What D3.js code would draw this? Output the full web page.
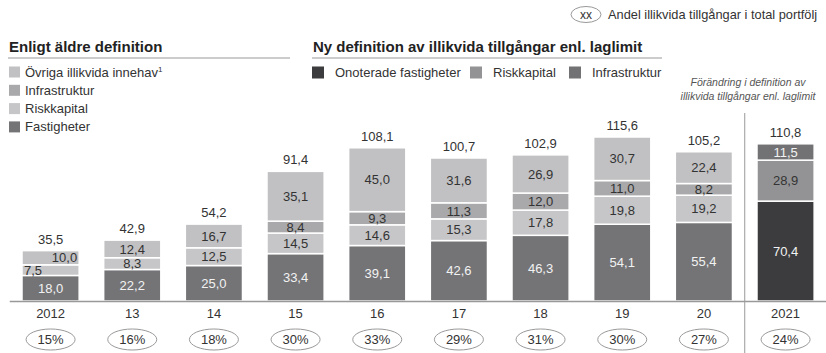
<!DOCTYPE html>
<html>
<head>
<meta charset="utf-8">
<script src="https://cdn.jsdelivr.net/npm/d3@7"></script>
<style>
  html, body { margin: 0; padding: 0; background: #fff; }
  svg { display: block; font-family: "Liberation Sans", Arial, sans-serif; }
</style>
</head>
<body>
<svg id="chart" width="826" height="353"></svg>
<script>
// Illiquid holdings, SEK bn, per year
const years = ["2012", "13", "14", "15", "16", "17", "18", "19", "20", "2021"];

// Older definition (2012–2020), bottom to top
const oldFastigheter   = [18.0, 22.2, 25.0, 33.4, 39.1, 42.6, 46.3, 54.1, 55.4];
const oldRiskkapital   = [7.5, 8.3, 12.5, 14.5, 14.6, 15.3, 17.8, 19.8, 19.2];
const oldInfrastruktur = [0, 0, 0, 8.4, 9.3, 11.3, 12.0, 11.0, 8.2];
const oldOvriga        = [10.0, 12.4, 16.7, 35.1, 45.0, 31.6, 26.9, 30.7, 22.4];

// New definition (2021), bottom to top
const newOnoterade     = [70.4];
const newRiskkapital   = [28.9];
const newInfrastruktur = [11.5];

const totals = [35.5, 42.9, 54.2, 91.4, 108.1, 100.7, 102.9, 115.6, 105.2, 110.8];
const shares = ["15%", "16%", "18%", "30%", "33%", "29%", "31%", "30%", "27%", "24%"];

const oldLegend = ["Övriga illikvida innehav", "Infrastruktur", "Riskkapital", "Fastigheter"];
const newLegend = ["Onoterade fastigheter", "Riskkapital", "Infrastruktur"];

const colors = {
  oldFastigheter: "#747477",
  oldRiskkapital: "#c6c6c8",
  oldInfrastruktur: "#a9a9ab",
  oldOvriga: "#c1c1c3",
  newOnoterade: "#3c3c3e",
  newRiskkapital: "#939395",
  newInfrastruktur: "#727274"
};

const svg = d3.select("#chart");
const textDark = "#333";

// Build stacked segments per year
const segments = [];
years.forEach((yr, i) => {
  let parts;
  if (i < oldFastigheter.length) {
    parts = [
      { key: "oldFastigheter", v: oldFastigheter[i], light: false },
      { key: "oldRiskkapital", v: oldRiskkapital[i], light: true },
      { key: "oldInfrastruktur", v: oldInfrastruktur[i], light: true },
      { key: "oldOvriga", v: oldOvriga[i], light: true }
    ];
  } else {
    const j = i - oldFastigheter.length;
    parts = [
      { key: "newOnoterade", v: newOnoterade[j], light: false },
      { key: "newRiskkapital", v: newRiskkapital[j], light: true },
      { key: "newInfrastruktur", v: newInfrastruktur[j], light: false }
    ];
  }
  let acc = 0;
  parts.forEach(p => {
    if (p.v > 0) {
      segments.push({ year: yr, key: p.key, v: p.v, y0: acc, y1: acc + p.v, light: p.light });
    }
    acc += p.v;
  });
});

const x = d3.scaleBand().domain(years).range([9.75, 826.4]).paddingInner(0.3).paddingOuter(0.15);
const y = d3.scaleLinear().domain([0, 115.6]).range([301, 137]);

// Bars
svg.append("g").selectAll("rect").data(segments).join("rect")
  .attr("x", d => x(d.year))
  .attr("width", x.bandwidth())
  .attr("y", d => y(d.y1))
  .attr("height", d => y(d.y0) - y(d.y1))
  .attr("fill", d => colors[d.key])
  .attr("stroke", "#fff")
  .attr("stroke-width", 1.5);

// Segment labels; two thin neighbouring segments get staggered left/right
const fmt = v => d3.format(".1f")(v).replace(".", ",");
const thin = d => (y(d.y0) - y(d.y1)) < 15;
svg.append("g").selectAll("text").data(segments).join("text")
  .each(function (d) {
    const sameYear = segments.filter(s => s.year === d.year);
    const k = sameYear.indexOf(d);
    const below = sameYear[k - 1], above = sameYear[k + 1];
    let anchor = "middle", tx = x(d.year) + x.bandwidth() / 2;
    if (d.light && thin(d)) {
      if (above && above.light && thin(above)) { anchor = "start"; tx = x(d.year) + 2; }
      else if (below && below.light && thin(below)) { anchor = "end"; tx = x(d.year) + x.bandwidth() - 2; }
    }
    d3.select(this)
      .attr("x", tx)
      .attr("y", (y(d.y0) + y(d.y1)) / 2)
      .attr("dy", "0.36em")
      .attr("text-anchor", anchor);
  })
  .attr("font-size", 13)
  .attr("fill", d => d.light ? textDark : "#f2f2f2")
  .text(d => fmt(d.v));

// Totals above bars
svg.append("g").selectAll("text").data(years).join("text")
  .attr("x", d => x(d) + x.bandwidth() / 2)
  .attr("y", (d, i) => y(totals[i]) - 7)
  .attr("text-anchor", "middle")
  .attr("font-size", 13)
  .attr("fill", textDark)
  .text((d, i) => fmt(totals[i]));

// Baseline
svg.append("line")
  .attr("x1", x.range()[0]).attr("x2", x.range()[1])
  .attr("y1", y(0) + 0.5).attr("y2", y(0) + 0.5)
  .attr("stroke", "#999").attr("stroke-width", 1.5);

// Year axis labels
const xAxis = d3.axisBottom(x).tickSize(0).tickPadding(0);
const ax = svg.append("g").attr("transform", `translate(0,${y(0)})`).call(xAxis);
ax.select(".domain").remove();
ax.selectAll("text")
  .attr("y", 17)
  .attr("dy", 0)
  .attr("font-size", 13)
  .attr("font-family", "Liberation Sans, Arial, sans-serif")
  .attr("fill", textDark);

// Share-of-portfolio ovals
const ov = svg.append("g").selectAll("g").data(years).join("g")
  .attr("transform", d => `translate(${x(d) + x.bandwidth() / 2},339.5)`);
ov.append("ellipse").attr("rx", 24.5).attr("ry", 10.5)
  .attr("fill", "#fff").attr("stroke", "#999").attr("stroke-width", 1);
ov.append("text").attr("text-anchor", "middle").attr("dy", "0.36em")
  .attr("font-size", 13).attr("fill", textDark)
  .text((d, i) => shares[i]);

// Divider between the two definitions
const divX = (x("20") + x.bandwidth() + x("2021")) / 2;
svg.append("line")
  .attr("x1", divX).attr("x2", divX).attr("y1", 113).attr("y2", 353)
  .attr("stroke", "#999").attr("stroke-width", 1);

// Note on the definition change
const note = svg.append("text")
  .attr("text-anchor", "middle").attr("font-size", 10.5)
  .attr("font-style", "italic").attr("fill", "#555");
note.append("tspan").attr("x", 748).attr("y", 86).text("Förändring i definition av");
note.append("tspan").attr("x", 748).attr("y", 100).text("illikvida tillgångar enl. laglimit");

// Top-right key for the ovals
svg.append("ellipse").attr("cx", 586).attr("cy", 14.5).attr("rx", 15).attr("ry", 8)
  .attr("fill", "#fff").attr("stroke", "#999");
svg.append("text").attr("x", 586).attr("y", 14.5).attr("dy", "0.36em")
  .attr("text-anchor", "middle").attr("font-size", 12).attr("fill", textDark).text("xx");
svg.append("text").attr("x", 608).attr("y", 19)
  .attr("font-size", 12.8).attr("fill", textDark)
  .text("Andel illikvida tillgångar i total portfölj");

// Section headers
svg.append("text").attr("x", 9).attr("y", 52)
  .attr("font-size", 15).attr("font-weight", "bold").attr("fill", "#222")
  .text("Enligt äldre definition");
svg.append("line").attr("x1", 8).attr("x2", 290).attr("y1", 58).attr("y2", 58)
  .attr("stroke", "#ccc").attr("stroke-width", 2);

svg.append("text").attr("x", 313).attr("y", 52)
  .attr("font-size", 15).attr("font-weight", "bold").attr("fill", "#222")
  .text("Ny definition av illikvida tillgångar enl. laglimit");
svg.append("line").attr("x1", 312).attr("x2", 662).attr("y1", 58).attr("y2", 58)
  .attr("stroke", "#ccc").attr("stroke-width", 2);

// Older-definition legend (vertical)
const oldKeys = ["oldOvriga", "oldInfrastruktur", "oldRiskkapital", "oldFastigheter"];
const lg1 = svg.append("g").selectAll("g").data(oldLegend).join("g")
  .attr("transform", (d, i) => `translate(9,${66.5 + i * 18.3})`);
lg1.append("rect").attr("width", 11).attr("height", 11)
  .attr("fill", (d, i) => colors[oldKeys[i]]);
const lt1 = lg1.append("text").attr("x", 16).attr("y", 10)
  .attr("font-size", 13).attr("fill", textDark).text(d => d);
lt1.filter((d, i) => i === 0).append("tspan")
  .attr("font-size", 8).attr("dy", -5).text("1");

// New-definition legend (horizontal)
const newKeys = ["newOnoterade", "newRiskkapital", "newInfrastruktur"];
const newX = [312, 470, 569];
const lg2 = svg.append("g").selectAll("g").data(newLegend).join("g")
  .attr("transform", (d, i) => `translate(${newX[i]},66.5)`);
lg2.append("rect").attr("width", 12).attr("height", 12)
  .attr("fill", (d, i) => colors[newKeys[i]]);
lg2.append("text").attr("x", 23).attr("y", 10.5)
  .attr("font-size", 13).attr("fill", textDark).text(d => d);
</script>
</body>
</html>
